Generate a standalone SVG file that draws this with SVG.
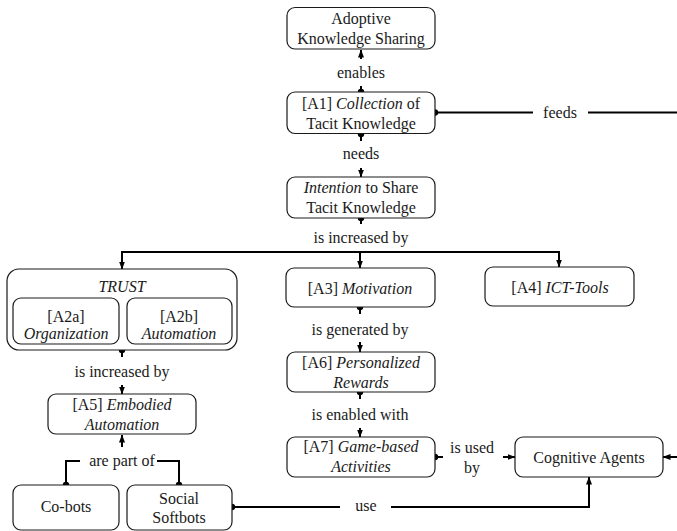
<svg xmlns="http://www.w3.org/2000/svg" width="677" height="531" viewBox="0 0 677 531">
<defs>
<style>
.box{fill:#fff;stroke:#1a1a1a;stroke-width:1.2}
.t text{font-size:16px;fill:#1a1a1a;text-anchor:middle}
.i{font-style:italic}
.c{fill:none;stroke:#000;stroke-width:2}
</style>
<marker id="dot" markerUnits="userSpaceOnUse" viewBox="-4 -4 8 8" markerWidth="8" markerHeight="8" refX="0" refY="0" orient="auto">
<circle cx="0" cy="0" r="3.2" fill="#000"/>
</marker>
<marker id="arr" markerUnits="userSpaceOnUse" viewBox="0 0 8 6" markerWidth="8" markerHeight="6" refX="7.5" refY="3" orient="auto">
<path d="M0,0 L8,3 L0,6 z" fill="#000"/>
</marker>
</defs>
<rect width="677" height="531" fill="#fff"/>
<g class="t" font-family="'Liberation Serif', 'Times New Roman', Times, 'DejaVu Serif', serif">
<g id="connectors">
<path class="c" d="M361,92 V86" marker-start="url(#dot)"/>
<path class="c" d="M361,59 V50" marker-end="url(#arr)"/>
<path class="c" d="M361,134 V141" marker-start="url(#dot)"/>
<path class="c" d="M361,168 V177" marker-end="url(#arr)"/>
<path class="c" d="M361,218 V224" marker-start="url(#dot)"/>
<path class="c" d="M122,252 H559"/>
<path class="c" d="M122,251 V269" marker-end="url(#arr)"/>
<path class="c" d="M360,251 V268" marker-end="url(#arr)"/>
<path class="c" d="M559,251 V267" marker-end="url(#arr)"/>
<path class="c" d="M122,350 V357" marker-start="url(#dot)"/>
<path class="c" d="M122,385 V394" marker-end="url(#arr)"/>
<path class="c" d="M360,307 V314" marker-start="url(#dot)"/>
<path class="c" d="M360,342 V352" marker-end="url(#arr)"/>
<path class="c" d="M360,392 V399" marker-start="url(#dot)"/>
<path class="c" d="M360,428 V437" marker-end="url(#arr)"/>
<path class="c" d="M435,457 H443" marker-start="url(#dot)"/>
<path class="c" d="M503,457 H515" marker-end="url(#arr)"/>
<path class="c" d="M66,485 V461 H80" marker-start="url(#dot)"/>
<path class="c" d="M179,485 V461 H157" marker-start="url(#dot)"/>
<path class="c" d="M122,447 V435" marker-end="url(#arr)"/>
<path class="c" d="M232,507 H340" marker-start="url(#dot)"/>
<path class="c" d="M391,507 H589 V477" marker-end="url(#arr)"/>
<path class="c" d="M435,112.5 H533" marker-start="url(#dot)"/>
<path class="c" d="M588,112.5 H677"/>
<path class="c" d="M677,457 H663" marker-end="url(#arr)"/>
<text x="361" y="78">enables</text>
<text x="361" y="159">needs</text>
<text x="361" y="243">is increased by</text>
<text x="122" y="377">is increased by</text>
<text x="360" y="335">is generated by</text>
<text x="360" y="420">is enabled with</text>
<text x="472" y="453">is used</text>
<text x="472" y="473">by</text>
<text x="122" y="466">are part of</text>
<text x="366" y="511">use</text>
<text x="560" y="118">feeds</text>
</g>

<g id="adoptive">
<rect class="box" x="287" y="7.5" width="148" height="41.5" rx="8"/>
<text x="361" y="23.5">Adoptive</text>
<text x="361" y="43.5">Knowledge Sharing</text>
</g>
<g id="a1">
<rect class="box" x="287" y="92" width="148" height="41.5" rx="8"/>
<text x="361" y="109">[A1] <tspan class="i">Collection</tspan> of</text>
<text x="361" y="128.5">Tacit Knowledge</text>
</g>
<g id="intention">
<rect class="box" x="287" y="177" width="148" height="41" rx="8"/>
<text x="361" y="193"><tspan class="i">Intention</tspan> to Share</text>
<text x="361" y="212.5">Tacit Knowledge</text>
</g>
<g id="trust">
<rect class="box" x="7" y="269" width="230" height="81" rx="12"/>
<text class="i" x="122" y="292">TRUST</text>
</g>
<g id="a2a">
<rect class="box" x="13" y="298" width="106" height="46" rx="8"/>
<text x="66" y="322">[A2a]</text>
<text class="i" x="66" y="339">Organization</text>
</g>
<g id="a2b">
<rect class="box" x="127" y="298" width="105" height="46" rx="8"/>
<text x="179" y="322">[A2b]</text>
<text class="i" x="179" y="339">Automation</text>
</g>
<g id="a3">
<rect class="box" x="286" y="268" width="149" height="39" rx="8"/>
<text x="360" y="294">[A3] <tspan class="i">Motivation</tspan></text>
</g>
<g id="a4">
<rect class="box" x="485" y="267" width="149" height="39" rx="8"/>
<text x="560" y="293">[A4] <tspan class="i">ICT-Tools</tspan></text>
</g>
<g id="a6">
<rect class="box" x="287" y="352" width="148" height="40" rx="8"/>
<text x="361" y="368">[A6] <tspan class="i">Personalized</tspan></text>
<text class="i" x="361" y="388">Rewards</text>
</g>
<g id="a7">
<rect class="box" x="287" y="437" width="148" height="40" rx="8"/>
<text x="361" y="452">[A7] <tspan class="i">Game-based</tspan></text>
<text class="i" x="361" y="472">Activities</text>
</g>
<g id="cognitive">
<rect class="box" x="515" y="437" width="148" height="40" rx="8"/>
<text x="589" y="463">Cognitive Agents</text>
</g>
<g id="a5">
<rect class="box" x="48" y="394" width="148" height="40" rx="8"/>
<text x="122" y="410">[A5] <tspan class="i">Embodied</tspan></text>
<text class="i" x="122" y="430">Automation</text>
</g>
<g id="cobots">
<rect class="box" x="13" y="485" width="106" height="45" rx="8"/>
<text x="66" y="512">Co-bots</text>
</g>
<g id="social">
<rect class="box" x="127" y="485" width="105" height="45" rx="8"/>
<text x="179" y="504">Social</text>
<text x="179" y="523">Softbots</text>
</g>
</g>
</svg>
